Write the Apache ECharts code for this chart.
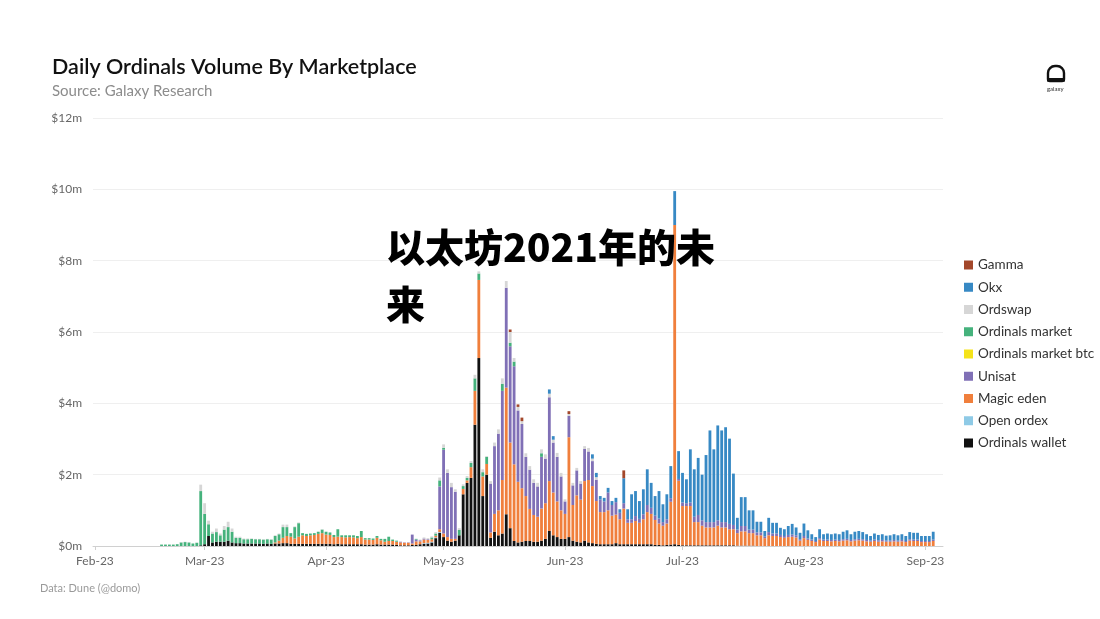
<!DOCTYPE html>
<html><head><meta charset="utf-8">
<script src="https://cdn.jsdelivr.net/npm/echarts@6/dist/echarts.min.js"></script>
<style>html,body{margin:0;padding:0;background:#fff}#c{width:1100px;height:619px}</style>
</head><body><div id="c"></div>
<script>
// Axis covers Feb 1 – Sep 5 2023; every series array starts on Feb 18 2023 (values in $m)
const axisStart = '2023-02-01';
const axisEnd = '2023-09-05';
const seriesStart = '2023-02-18';
const monthLabels = ['Feb-23','Mar-23','Apr-23','May-23','Jun-23','Jul-23','Aug-23','Sep-23'];
const yTicks = [0, 2, 4, 6, 8, 10, 12];

const ordinalsWallet = [
0,0,0,0,0,0,0,0,0,0,
0.02,0.05,0.28,0.1,0.12,0.12,0.12,0.15,0.1,0.08,
0.08,0.07,0.07,0.07,0.07,0.07,0.06,0.07,0.06,0.07,
0.07,0.08,0.08,0.06,0.06,0.06,0.06,0.06,0.06,0.06,
0.06,0.06,0.06,0.06,0.05,0.06,0.05,0.05,0.05,0.05,
0.05,0.05,0.04,0.04,0.04,0.05,0.04,0.04,0.04,0.04,
0.03,0.02,0.02,0.02,0.03,0.03,0.05,0.06,0.07,0.1,
0.22,0.37,0.25,0.15,0.12,0.15,0.3,1.45,1.77,1.91,
3.4,5.27,1.4,2.0,0.23,0.4,0.3,0.35,0.89,0.5,
0.14,0.1,0.12,0.14,0.14,0.12,0.12,0.15,0.2,0.42,
0.3,0.25,0.2,0.2,0.25,0.15,0.12,0.1,0.15,0.1,
0.08,0.06,0.05,0.05,0.05,0.05,0.08,0.05,0.05,0.05,
0.05,0.05,0.05,0.05,0.05,0.05,0.03,0.03,0.02,0.03,
0.04,0.05,0.03,0.02,0.02,0.02,0.02,0.02,0.02,0.02,
0.02,0.02,0.02,0.02,0.02,0.02,0.02,0.01,0.01,0.01,
0.01,0.01
];
const openOrdex = [
0,0,0,0,0,0,0,0,0,0,
0,0,0,0,0,0,0,0,0,0,
0,0,0,0,0,0,0,0,0,0,
0,0,0,0,0,0,0,0,0,0,
0,0,0,0,0,0,0,0,0,0,
0,0,0,0,0,0,0,0,0,0,
0,0,0,0,0,0,0,0.02,0.02,0.02,
0.02,0.02
];
const magicEden = [
0,0,0,0,0,0,0,0,0,0,
0,0,0,0,0,0,0,0,0,0,
0,0,0,0,0,0,0,0,0,0.03,
0.08,0.15,0.2,0.2,0.15,0.2,0.24,0.22,0.24,0.25,
0.28,0.3,0.26,0.25,0.2,0.2,0.2,0.19,0.2,0.19,
0.17,0.2,0.14,0.14,0.13,0.18,0.12,0.08,0.1,0.1,
0.09,0.08,0.07,0.07,0.04,0.1,0.08,0.1,0.08,0.07,
0.05,0.08,0.1,0.1,0.08,0.05,0,0.15,0.07,0.3,
0.95,2.19,0.55,0.3,0.15,0.5,0.7,1.5,3.55,2.4,
2.15,1.7,1.5,1.26,0.9,0.75,0.7,0.9,1.0,1.4,
1.2,1.0,0.8,0.7,2.8,1.0,1.3,1.2,1.67,1.75,
1.6,1.2,0.9,0.9,0.95,0.8,0.8,0.7,1.0,0.6,
0.6,0.65,0.6,0.7,0.9,0.85,0.7,0.6,0.55,0.6,
1.2,8.95,1.8,1.1,1.1,1.1,0.65,0.65,0.55,0.5,
0.5,0.5,0.55,0.5,0.5,0.45,0.45,0.35,0.4,0.4,
0.35,0.35,0.3,0.3,0.22,0.3,0.28,0.28,0.25,0.23,
0.25,0.26,0.24,0.15,0.22,0.17,0.14,0.11,0.18,0.14,
0.14,0.13,0.14,0.13,0.15,0.16,0.13,0.15,0.16,0.15,
0.13,0.12,0.14,0.12,0.13,0.12,0.12,0.13,0.12,0.13,
0.11,0.15,0.14,0.14,0.11,0.11,0.11,0.14
];
const unisat = [
0,0,0,0,0,0,0,0,0,0,
0,0,0,0,0,0,0,0,0,0,
0,0,0,0,0,0,0,0,0,0,
0,0,0,0,0,0,0,0,0,0,
0,0,0,0,0,0,0,0,0,0,
0,0,0,0,0,0,0,0,0,0,
0,0.02,0.01,0.01,0.25,0.05,0.03,0.03,0.02,0,
0,1.2,2.35,1.8,1.45,1.32,0,0,0,0,
0,0,0,0,1.37,1.9,2.15,2.5,2.8,2.7,
2.75,2.0,1.8,1.1,1.1,0.9,0.85,1.45,1.25,2.35,
1.4,1.25,0.95,0.35,0.6,0.55,0.7,0.45,0.9,0.8,
0.7,0.6,0.35,0.3,0.5,0.3,0.35,0.18,0.15,0.1,
0.1,0.14,0.11,0.14,0.2,0.17,0.12,0.14,0.1,0.12,
0.1,0,0.05,0.1,0.08,0.1,0.15,0.2,0.15,0.15,
0.15,0.15,0.15,0.15,0.15,0.15,0.12,0.1,0.15,0.15,
0.1,0.1,0.08,0.08,0.05,0.09,0.07,0.07,0.06,0.05,
0.06,0.06,0.06,0.04,0.06,0.04,0.04,0.03,0.04,0.04,
0.04,0.04,0.04,0.04,0.04,0.04,0.04,0.04,0.04,0.04,
0.04,0.03,0.04,0.04,0.04,0.03,0.03,0.04,0.03,0.04,
0.03,0.04,0.04,0.04,0.03,0.03,0.03,0.04
];
const ordinalsMarketBtc = [];
const ordinalsMarket = [
0.04,0.04,0.04,0.04,0.05,0.1,0.11,0.1,0.07,0.09,
1.52,0.85,0.33,0.25,0.27,0.18,0.34,0.38,0.3,0.15,
0.15,0.12,0.12,0.13,0.12,0.12,0.12,0.12,0.12,0.18,
0.18,0.3,0.25,0.1,0.32,0.38,0.06,0.06,0.05,0.05,
0.06,0.1,0.08,0.07,0.06,0.21,0.05,0.06,0.05,0.06,
0.06,0.17,0.04,0.04,0.04,0.05,0.04,0.08,0.12,0.04,
0.03,0,0,0,0,0.02,0,0,0,0.05,
0.06,0.17,0.05,0,0,0,0.15,0.08,0.07,0.12,
0.35,0.18,0.12,0.2,0,0,0,0.2,0,0.1,
0.13,0,0,0,0,0,0,0.1
];
const ordswap = [
0,0,0,0,0,0.01,0.01,0.01,0,0.01,
0.18,0.3,0.1,0.05,0.1,0.05,0.1,0.15,0.09,0.03,
0.03,0.02,0.02,0.01,0.01,0.01,0.01,0.01,0.01,0.02,
0.02,0.07,0.07,0,0.02,0.02,0,0,0,0,
0,0.01,0,0,0,0,0,0,0,0,
0,0,0,0,0,0,0,0,0,0,
0,0,0,0,0,0,0.02,0.03,0.03,0.03,
0.04,0.08,0.1,0.1,0.12,0.07,0.05,0.05,0.05,0.05,
0.1,0.06,0.08,0.02,0.07,0.1,0.12,0.15,0.19,0.3,
0.1,0.1,0.08,0.1,0.1,0.1,0.1,0.11,0.12,0.1,
0.08,0.11,0.1,0.06,0.05,0.07,0.07,0.07,0.08,0.1,
0.07,0.07
];
const okx = [
0,0,0,0,0,0,0,0,0,0,
0,0,0,0,0,0,0,0,0,0,
0,0,0,0,0,0,0,0,0,0,
0,0,0,0,0,0,0,0,0,0,
0,0,0,0,0,0,0,0,0,0,
0,0,0,0,0,0,0,0,0,0,
0,0,0,0,0,0,0,0,0,0,
0,0,0,0,0,0,0,0,0,0,
0,0,0,0,0,0,0,0,0,0,
0,0,0,0,0,0,0,0,0,0.12,
0.1,0,0,0,0,0,0,0,0,0,
0.12,0.12,0.1,0.1,0.13,0.11,0.12,0.1,0.7,0.28,
0.7,0.7,0.5,0.7,1.0,0.7,0.55,0.77,0.5,0.7,
0.9,0.95,0.78,0.83,0.67,1.49,1.33,1.6,1.28,1.88,
2.57,2.04,2.66,2.57,2.66,2.39,1.44,0.33,0.81,0.81,
0.54,0.54,0.3,0.3,0.15,0.4,0.3,0.3,0.2,0.19,
0.25,0.3,0.22,0.18,0.35,0.23,0.15,0.11,0.25,0.15,
0.17,0.16,0.17,0.16,0.21,0.24,0.16,0.21,0.22,0.2,
0.16,0.13,0.17,0.15,0.16,0.14,0.15,0.16,0.15,0.16,
0.14,0.2,0.19,0.19,0.14,0.14,0.14,0.22
];
const gamma = [
0,0,0,0,0,0,0,0,0,0,
0,0,0,0,0,0,0,0,0,0,
0,0,0,0,0,0,0,0,0,0,
0,0,0,0,0,0,0,0,0,0,
0,0,0,0,0,0,0,0,0,0,
0,0,0,0,0,0,0,0,0,0,
0,0,0,0,0,0,0,0,0,0,
0,0,0,0,0,0,0,0,0,0,
0,0,0,0,0,0,0,0,0,0.07,
0,0.07,0.1,0,0,0,0,0,0,0,
0,0,0,0,0.08,0,0,0,0,0,
0,0,0,0,0,0,0,0,0.22
];

// build category dates
const cats = [];
for (let t = Date.parse(axisStart + 'T00:00:00Z'); t <= Date.parse(axisEnd + 'T00:00:00Z'); t += 86400000) {
  cats.push(new Date(t).toISOString().slice(0, 10));
}
const offset = cats.indexOf(seriesStart);
const pad = arr => new Array(offset).fill(null).concat(arr);
const isMonthStart = (i, v) => v.slice(8) === '01';

const defs = [
  ['Ordinals wallet', ordinalsWallet, '#111111'],
  ['Open ordex', openOrdex, '#8ecae6'],
  ['Magic eden', magicEden, '#f07f3c'],
  ['Unisat', unisat, '#8070b6'],
  ['Ordinals market btc', ordinalsMarketBtc, '#f5e31a'],
  ['Ordinals market', ordinalsMarket, '#45b27c'],
  ['Ordswap', ordswap, '#d6d6d6'],
  ['Okx', okx, '#3789c4'],
  ['Gamma', gamma, '#a3472a']
];
const legendOrder = ['Gamma','Okx','Ordswap','Ordinals market','Ordinals market btc','Unisat','Magic eden','Open ordex','Ordinals wallet'];
const FONT = 'Lato, "Noto Sans", sans-serif';

const chart = echarts.init(document.getElementById('c'));
chart.setOption({
  animation: false,
  backgroundColor: '#ffffff',
  textStyle: { fontFamily: FONT },
  grid: { left: 93, right: 157, top: 118, bottom: 73, containLabel: false },
  legend: {
    orient: 'vertical', left: 959, top: 253,
    data: legendOrder, icon: 'rect', itemWidth: 9, itemHeight: 9, itemGap: 8.25,
    textStyle: { fontSize: 13.5, color: '#333', fontFamily: FONT },
    selectedMode: false
  },
  xAxis: {
    type: 'category', data: cats, boundaryGap: true,
    axisLine: { lineStyle: { color: '#d0d0d0' } },
    axisTick: { show: true, interval: isMonthStart, alignWithLabel: true, length: 4, lineStyle: { color: '#d0d0d0' } },
    axisLabel: {
      interval: isMonthStart, color: '#666', fontSize: 12, margin: 9, fontFamily: FONT,
      formatter: v => monthLabels[parseInt(v.slice(5, 7), 10) - 2]
    }
  },
  yAxis: {
    type: 'value', min: yTicks[0], max: yTicks[yTicks.length - 1], interval: 2,
    axisLine: { show: false }, axisTick: { show: false },
    splitLine: { lineStyle: { color: '#efefef' } },
    axisLabel: { color: '#666', fontSize: 12, margin: 11, fontFamily: FONT, formatter: v => '$' + v + 'm' }
  },
  series: defs.map(([name, arr, color]) => ({
    name, type: 'bar', stack: 'vol', data: pad(arr), barWidth: '72%',
    itemStyle: { color }, emphasis: { disabled: true }
  })),
  graphic: [
    { type: 'text', left: 52, top: 56, style: { text: 'Daily Ordinals Volume By Marketplace', font: '600 21.5px ' + FONT, fill: '#111' } },
    { type: 'text', left: 52, top: 84, style: { text: 'Source: Galaxy Research', font: '15px ' + FONT, fill: '#8c8c8c' } },
    { type: 'text', left: 40, top: 583, style: { text: 'Data: Dune (@domo)', font: '11px ' + FONT, fill: '#9a9a9a' } },
    { type: 'rect', shape: { x: 1048, y: 66, width: 16, height: 15, r: [7, 7, 2, 2] }, style: { fill: 'none', stroke: '#111', lineWidth: 2.4 } },
    { type: 'rect', shape: { x: 1047, y: 78, width: 18, height: 3.5 }, style: { fill: '#111' } },
    { type: 'text', left: 1047, top: 86, style: { text: 'galaxy', font: '6px ' + FONT, fill: '#333' } },
    { type: 'text', x: 386, y: 219, style: { text: '以太坊2021年的未来', font: '900 39px "Noto Sans CJK SC"', fill: '#000', width: 345, overflow: 'break', lineHeight: 57, verticalAlign: 'top' }, z: 100 }
  ]
});
</script></body></html>
